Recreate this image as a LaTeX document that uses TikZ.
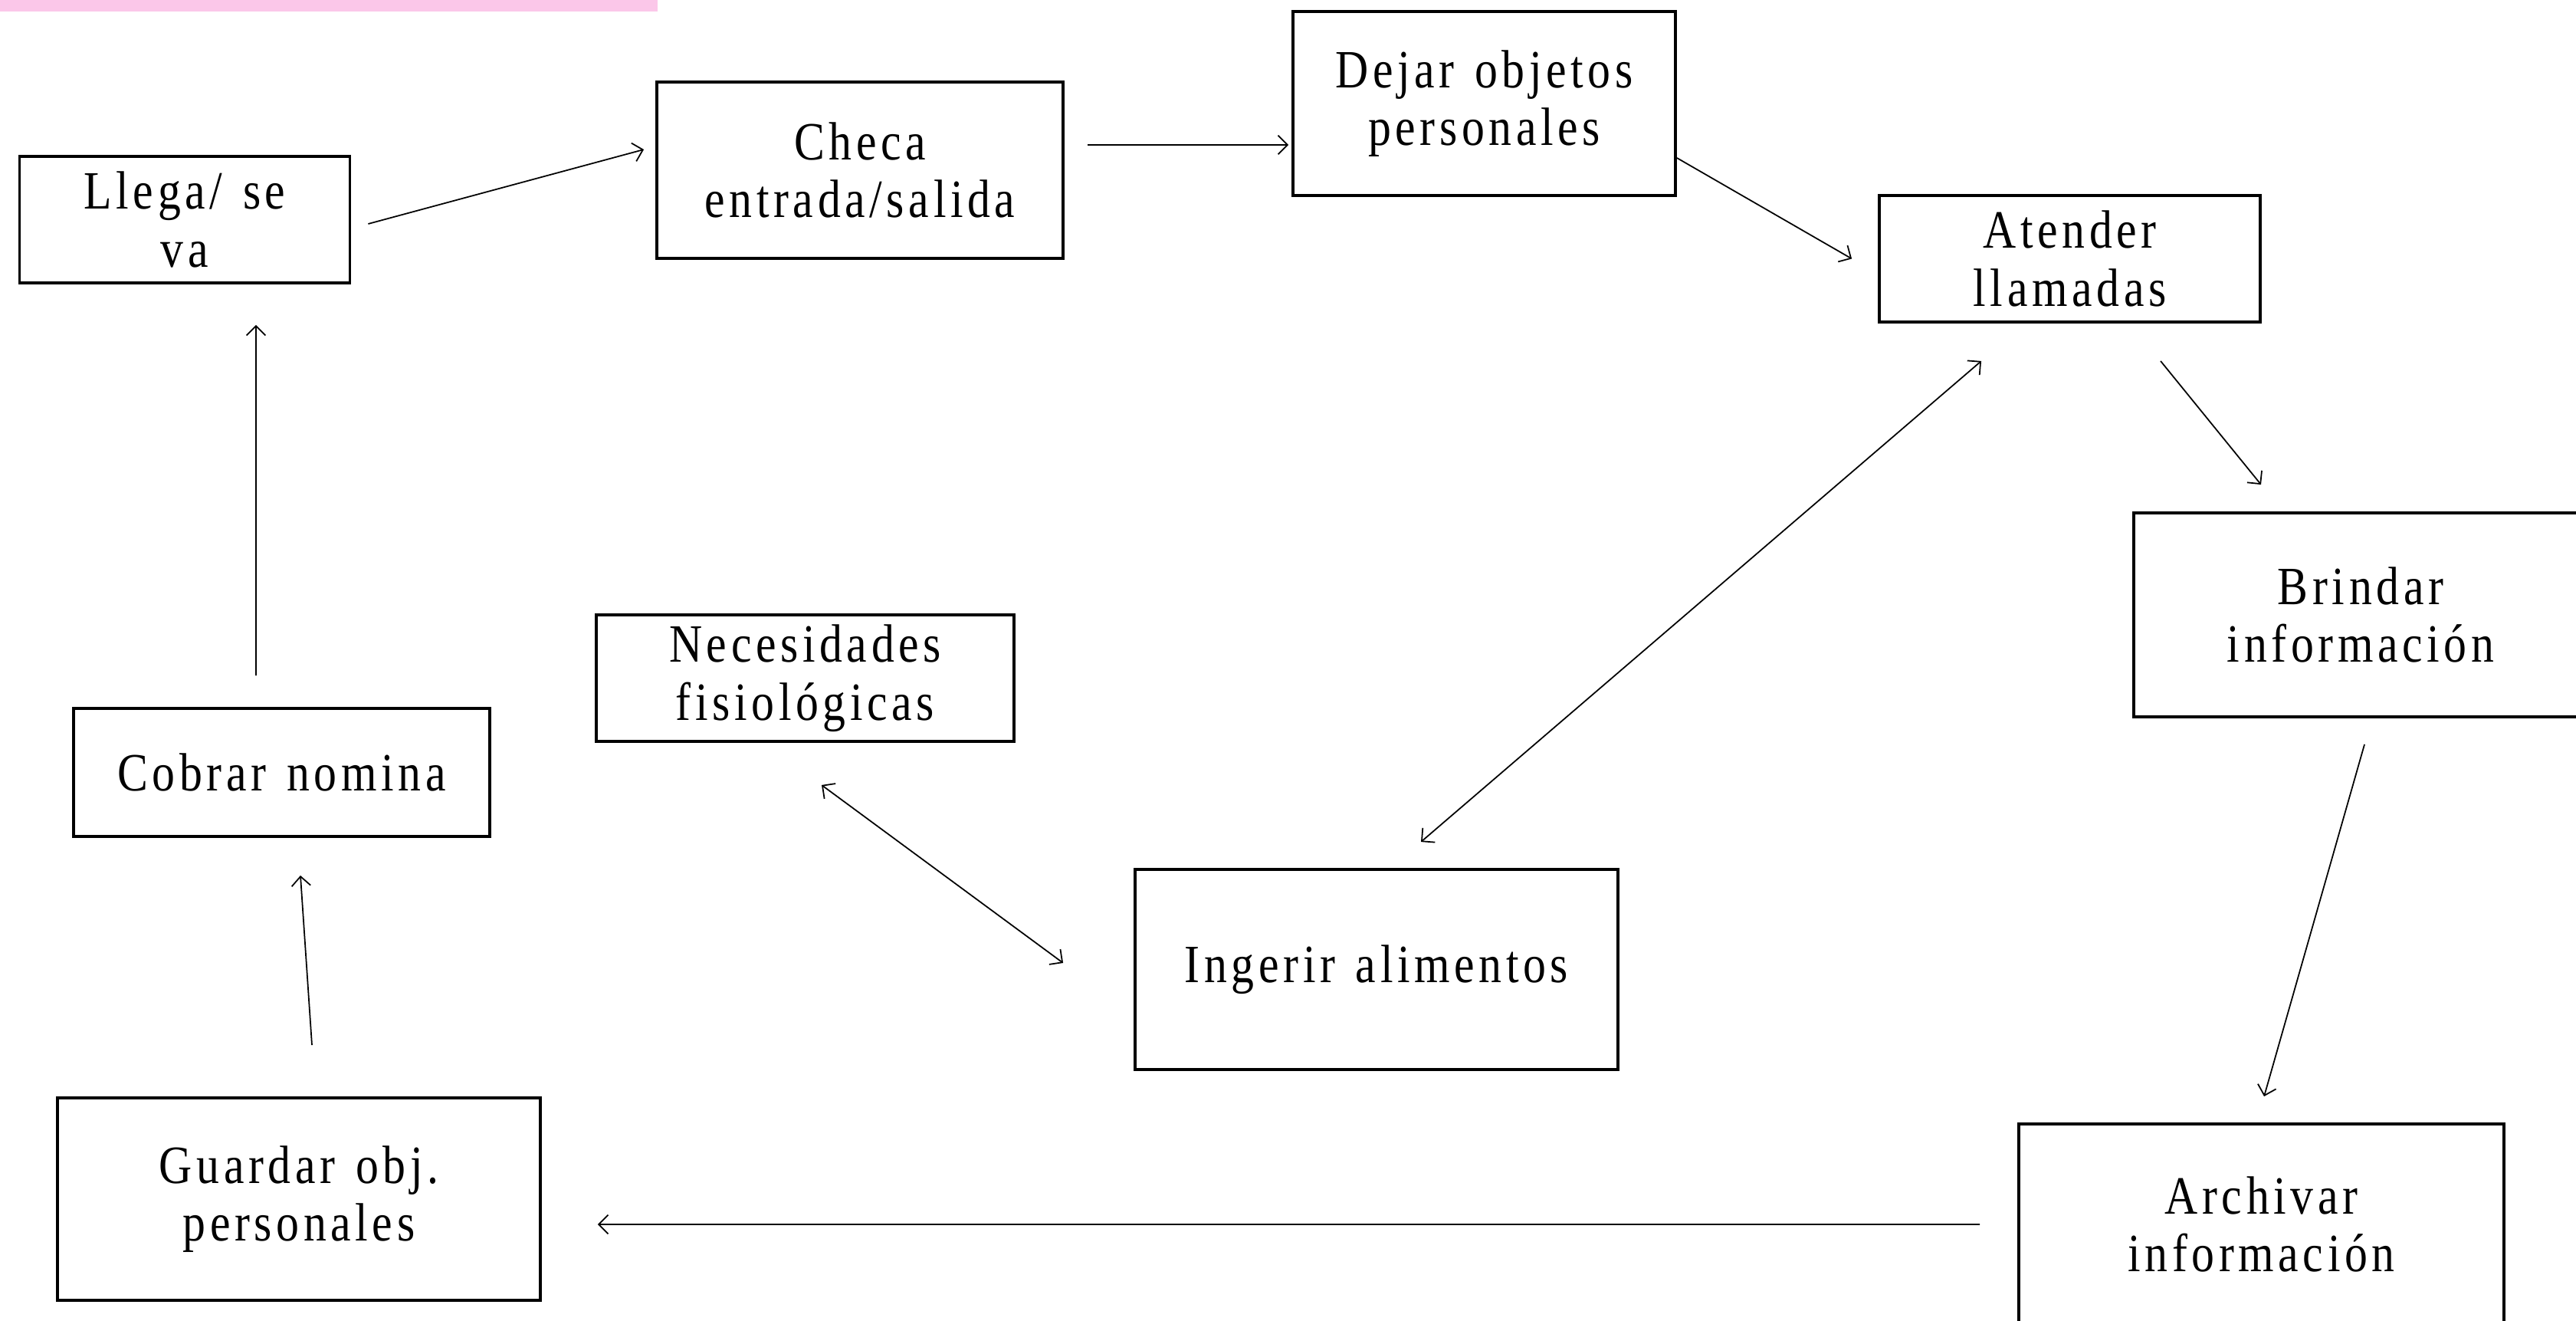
\documentclass[tikz,border=0pt]{standalone}
\usepackage{fontspec}
\setmainfont{Liberation Serif}[FakeStretch=0.85, LetterSpace=8, WordSpace=1.3]
\usepackage{xcolor}
\usetikzlibrary{positioning, calc, arrows.meta}
\definecolor{pinkbar}{RGB}{251,199,233}
\tikzset{block/.style={draw, line width=1.1pt, align=center, inner sep=0pt, font=\fontsize{20}{21.5}\selectfont},
line/.style={-{Straight Barb[length=3.5pt,width=7pt]}, line width=0.5pt},
both/.style={{Straight Barb[length=3.5pt,width=7pt]}-{Straight Barb[length=3.5pt,width=7pt]}, line width=0.5pt}
}

\begin{document}
\begin{tikzpicture}
\useasboundingbox (0,0) rectangle (33.61,17.22);
\fill[pinkbar] (0,17.07) rectangle (8.58,17.22);
% the blocks of the cycle
\node[block, minimum width=4.31cm, minimum height=1.65cm] (llega) at (2.41,14.355) {Llega/ se\\va};
\node[block, minimum width=5.30cm, minimum height=2.30cm] (checa) at (11.22,15.0) {Checa\\entrada/salida};
\node[block, minimum width=4.99cm, minimum height=2.40cm] (dejar) at (19.365,15.87) {Dejar objetos\\personales};
\node[block, minimum width=4.97cm, minimum height=1.65cm] (atender) at (27.005,13.845) {Atender\\llamadas};
\node[block, minimum width=5.92cm, minimum height=2.66cm] (brindar) at (30.80,9.20) {Brindar\\informaci\'on};
\node[block, minimum width=6.33cm, minimum height=2.62cm] (archivar) at (29.505,1.25) {Archivar\\informaci\'on};
\node[block, minimum width=6.30cm, minimum height=2.61cm] (ingerir) at (17.96,4.575) {Ingerir alimentos};
\node[block, minimum width=5.45cm, minimum height=1.65cm] (necesidades) at (10.505,8.375) {Necesidades\\fisiol\'ogicas};
\node[block, minimum width=5.43cm, minimum height=1.67cm] (cobrar) at (3.675,7.145) {Cobrar nomina};
\node[block, minimum width=6.30cm, minimum height=2.64cm] (guardar) at (3.90,1.58) {Guardar obj.\\personales};
% arrows between the blocks
\draw[line] ([shift={(0.22,-0.055)}]llega.east) -- ([shift={(-0.15,0.27)}]checa.west);
\draw[line] ([shift={(0.30,0.33)}]checa.east) -- ([shift={(-0.04,-0.54)}]dejar.west);
\draw[line] ([shift={(0,-0.71)}]dejar.east) -- ([shift={(-0.34,0)}]atender.west);
\draw[line] ([shift={(1.185,-0.49)}]atender.south) -- ([shift={(-1.30,0.35)}]brindar.north);
\draw[line] ([shift={(0.05,-0.34)}]brindar.south) -- ([shift={(0.035,0.34)}]archivar.north);
\draw[line] ([shift={(-0.49,0)}]archivar.west) -- ([shift={(0.73,-0.33)}]guardar.east);
\draw[line] ([shift={(0.17,0.67)}]guardar.north) -- ([shift={(0.245,-0.49)}]cobrar.south);
\draw[line] ([shift={(-0.335,0.41)}]cobrar.north) -- ([shift={(0.93,-0.53)}]llega.south);
\draw[both] ([shift={(0.58,0.34)}]ingerir.north) -- ([shift={(-1.155,-0.49)}]atender.south);
\draw[both] ([shift={(0.215,-0.55)}]necesidades.south) -- ([shift={(-0.92,0.085)}]ingerir.west);
\end{tikzpicture}
\end{document}
